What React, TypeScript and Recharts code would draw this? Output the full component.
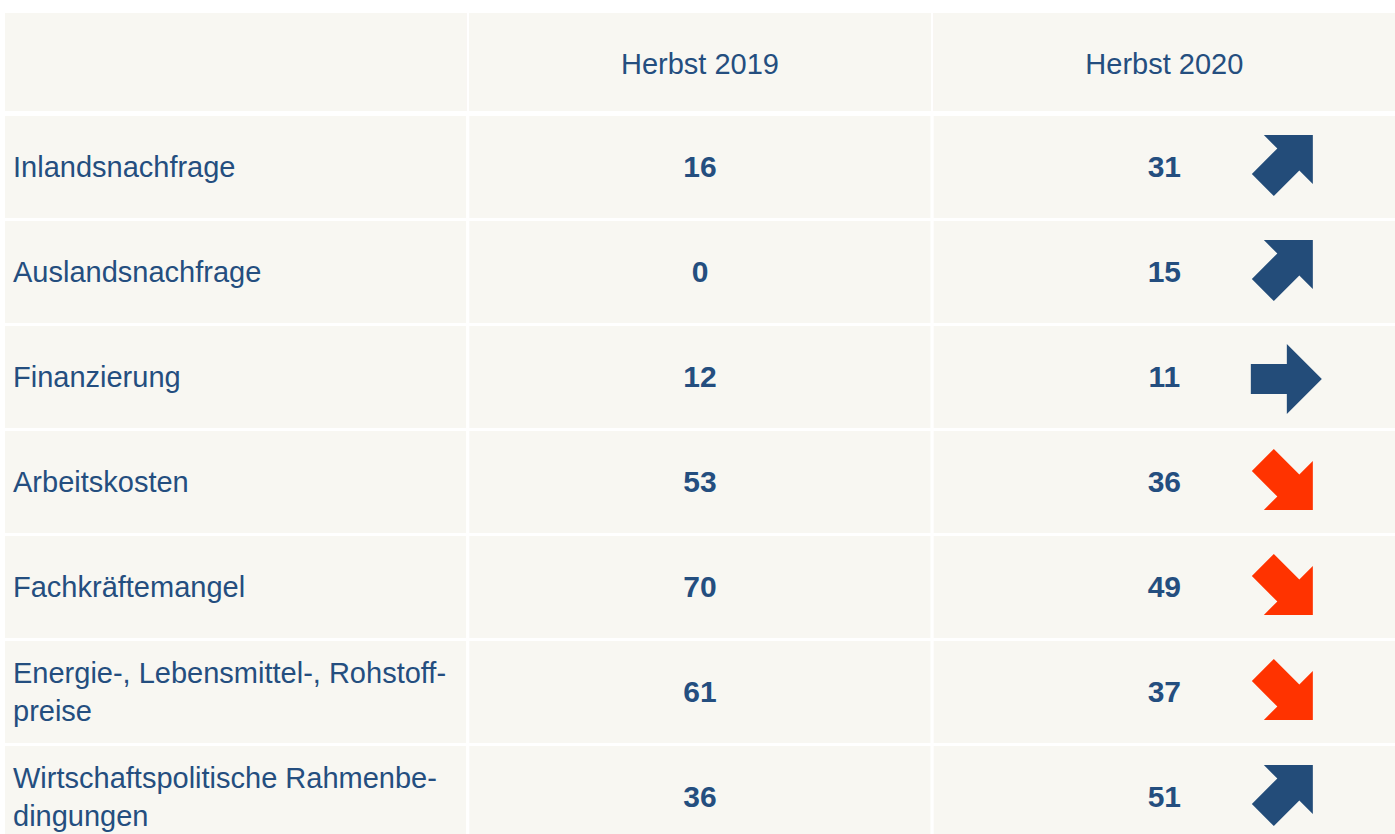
import React from 'react';
import { ComposedChart, XAxis, YAxis, Scatter, ReferenceArea } from 'recharts';

// ---- data ----
const COLUMNS = ['Kategorie', 'Herbst 2019', 'Herbst 2020'];
const HEADER_LABELS = ['', 'Herbst 2019', 'Herbst 2020'];
const ROW_LABELS: string[][] = [
  ['Inlandsnachfrage'],
  ['Auslandsnachfrage'],
  ['Finanzierung'],
  ['Arbeitskosten'],
  ['Fachkräftemangel'],
  ['Energie-, Lebensmittel-, Rohstoff-', 'preise'],
  ['Wirtschaftspolitische Rahmenbe-', 'dingungen'],
];
const VALUES_2019 = [16, 0, 12, 53, 70, 61, 36];
const VALUES_2020 = [31, 15, 11, 36, 49, 37, 51];
const TRENDS = ['up', 'up', 'flat', 'down', 'down', 'down', 'up'];

// ---- style / layout ----
const FONT = '"Liberation Sans", Arial, Helvetica, sans-serif';
const TEXT_COLOR = '#244e7f';
const BLUE = '#234c79';
const RED = '#ff3300';
const CELL_BG = '#f8f7f2';
const GAP = 3;

const CHART_W = 1400;
const CHART_H = 850;
const MARGIN = { top: 0, right: 3.5, bottom: 0.5, left: 3.5 };
const HEADER_H = 114.5;
const PLOT_W = CHART_W - MARGIN.left - MARGIN.right;
const BAND_W = PLOT_W / COLUMNS.length;
const HEADER_TOP = 13;
const HEADER_BOTTOM = 111;
const HEADER_BASELINE = 73.5;
const FONT_SIZE = 29;
const BOLD_SIZE = 30;
const BASE_OFF = 10;
const LINE_H = 37.7;
const LABEL_PAD = 9.5;
const ARROW_DX = 118.5;
const ARROW_DY = -2;

const ROW_KEYS = ROW_LABELS.map((l) => l.join(' '));

const labelData = ROW_LABELS.map((lines, i) => ({ col: COLUMNS[0], row: ROW_KEYS[i], lines }));
const data2019 = VALUES_2019.map((v, i) => ({ col: COLUMNS[1], row: ROW_KEYS[i], value: v }));
const data2020 = VALUES_2020.map((v, i) => ({ col: COLUMNS[2], row: ROW_KEYS[i], value: v, trend: TRENDS[i] }));

const UP_ARROW = 'M30,-30 L30,19 L16.5,5.5 L-9,31 L-31,9 L-5.5,-16.5 L-19,-30 Z';
const DOWN_ARROW = 'M30,30 L30,-19 L16.5,-5.5 L-9,-31 L-31,-9 L-5.5,16.5 L-19,30 Z';
const RIGHT_ARROW = 'M-32,-11 L4,-11 L4,-31 L39,4 L4,39 L4,19 L-32,19 Z';

const HeaderTick = (props: any) => {
  const { x, payload } = props;
  const idx = COLUMNS.indexOf(payload.value);
  return (
    <g>
      <rect
        x={x - BAND_W / 2 + GAP / 2}
        y={HEADER_TOP}
        width={BAND_W - GAP}
        height={HEADER_BOTTOM - HEADER_TOP}
        fill={CELL_BG}
      />
      <text x={x} y={HEADER_BASELINE} textAnchor="middle" fontFamily={FONT} fontSize={FONT_SIZE} fill={TEXT_COLOR}>
        {HEADER_LABELS[idx]}
      </text>
    </g>
  );
};

const LabelShape = (props: any) => {
  const { cx, cy, payload } = props;
  const lines: string[] = payload.lines;
  const x0 = cx - BAND_W / 2 + LABEL_PAD;
  return (
    <text fontFamily={FONT} fontSize={FONT_SIZE} fill={TEXT_COLOR}>
      {lines.map((l, i) => (
        <tspan key={i} x={x0} y={cy + BASE_OFF + (i - (lines.length - 1) / 2) * LINE_H}>
          {l}
        </tspan>
      ))}
    </text>
  );
};

const ValueShape = (props: any) => {
  const { cx, cy, payload } = props;
  return (
    <text x={cx} y={cy + BASE_OFF} textAnchor="middle" fontFamily={FONT} fontSize={BOLD_SIZE} fontWeight="bold" fill={TEXT_COLOR}>
      {payload.value}
    </text>
  );
};

const ValueArrowShape = (props: any) => {
  const { cx, cy, payload } = props;
  const t = payload.trend;
  const d = t === 'up' ? UP_ARROW : t === 'down' ? DOWN_ARROW : RIGHT_ARROW;
  const color = t === 'down' ? RED : BLUE;
  return (
    <g>
      <text x={cx} y={cy + BASE_OFF} textAnchor="middle" fontFamily={FONT} fontSize={BOLD_SIZE} fontWeight="bold" fill={TEXT_COLOR}>
        {payload.value}
      </text>
      <path d={d} fill={color} transform={`translate(${cx + ARROW_DX},${cy + ARROW_DY})`} />
    </g>
  );
};

export default function App() {
  return (
    <div
      style={{
        position: 'absolute',
        left: 0,
        top: 0,
        width: 1395,
        height: 834,
        overflow: 'hidden',
        background: '#ffffff',
      }}
    >
      <ComposedChart width={CHART_W} height={CHART_H} margin={MARGIN}>
        {ROW_KEYS.map((r) =>
          COLUMNS.map((c) => (
            <ReferenceArea
              key={`${r}-${c}`}
              x1={c}
              x2={c}
              y1={r}
              y2={r}
              fill={CELL_BG}
              fillOpacity={1}
              stroke="#ffffff"
              strokeWidth={GAP}
              ifOverflow="visible"
            />
          ))
        )}
        <XAxis
          dataKey="col"
          type="category"
          scale="band"
          orientation="top"
          allowDuplicatedCategory={false}
          height={HEADER_H}
          axisLine={false}
          tickLine={false}
          interval={0}
          tick={<HeaderTick />}
        />
        <YAxis dataKey="row" type="category" scale="band" allowDuplicatedCategory={false} reversed hide />
        <Scatter data={labelData} isAnimationActive={false} shape={<LabelShape />} />
        <Scatter data={data2019} isAnimationActive={false} shape={<ValueShape />} />
        <Scatter data={data2020} isAnimationActive={false} shape={<ValueArrowShape />} />
      </ComposedChart>
    </div>
  );
}
